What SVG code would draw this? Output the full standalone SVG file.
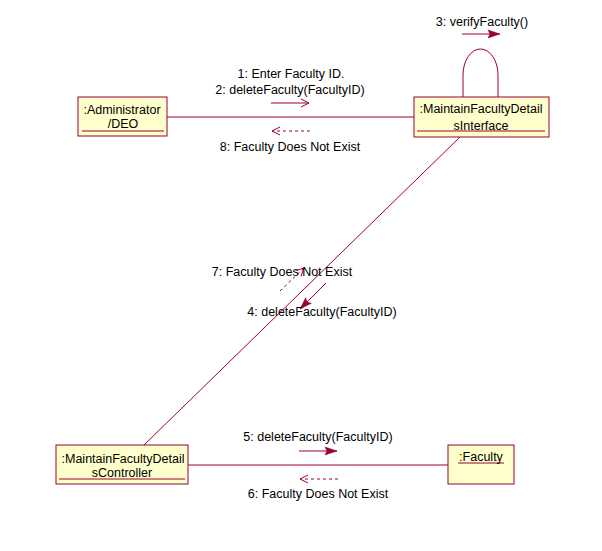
<svg xmlns="http://www.w3.org/2000/svg" width="602" height="551" viewBox="0 0 602 551">
<style>
.box{fill:#FFFFCC;stroke:#990033;stroke-width:1}
.ul{stroke:#990033;stroke-width:1}
.ln{stroke:#990033;stroke-width:1;fill:none}
.dash{stroke:#990033;stroke-width:1;fill:none;stroke-dasharray:3,3}
text{font-family:"Liberation Sans",Arial,sans-serif;font-size:12.5px;fill:#000;text-anchor:middle}
</style>
<defs>
<marker id="filled" markerUnits="userSpaceOnUse" markerWidth="14" markerHeight="10" refX="12" refY="4" orient="auto" overflow="visible">
<path d="M0,0 L12,4 L0,8 L2,4 z" fill="#990033" stroke="#990033" stroke-width="0.5"/>
</marker>
<marker id="open" markerUnits="userSpaceOnUse" markerWidth="10" markerHeight="10" refX="8" refY="4" orient="auto" overflow="visible">
<path d="M0,0 L8,4 L0,8" fill="none" stroke="#990033" stroke-width="1"/>
</marker>
</defs>
<rect width="602" height="551" fill="#fff"/>
<g id="connectors">
<line class="ln" x1="167" y1="117" x2="414" y2="117"/>
<line class="ln" x1="460" y1="137" x2="144" y2="445"/>
<line class="ln" x1="188" y1="465" x2="448" y2="465"/>
<path class="ln" d="M463,97 V75 A17.5,26 0 0 1 498,75 V97"/>
<line class="ln" x1="271" y1="103" x2="309" y2="103" marker-end="url(#open)"/>
<line class="dash" x1="310" y1="131" x2="272" y2="131" marker-end="url(#open)"/>
<line class="ln" x1="462" y1="34" x2="500" y2="34" marker-end="url(#filled)"/>
<line class="ln" x1="326" y1="283" x2="300" y2="309" marker-end="url(#filled)"/>
<line class="dash" x1="280" y1="291" x2="304" y2="268" marker-end="url(#open)"/>
<line class="ln" x1="299" y1="451" x2="337" y2="451" marker-end="url(#filled)"/>
<line class="dash" x1="338" y1="479" x2="300" y2="479" marker-end="url(#open)"/>
<text x="291" y="78">1: Enter Faculty ID.</text>
<text x="290" y="94">2: deleteFaculty(FacultyID)</text>
<text x="290" y="151">8: Faculty Does Not Exist</text>
<text x="482" y="26">3: verifyFaculty()</text>
<text x="282" y="276">7: Faculty Does Not Exist</text>
<text x="322" y="316">4: deleteFaculty(FacultyID)</text>
<text x="318" y="441">5: deleteFaculty(FacultyID)</text>
<text x="318" y="498">6: Faculty Does Not Exist</text>
</g>
<g id="administrator">
<rect class="box" x="78" y="97" width="89" height="39"/>
<line class="ul" x1="82" y1="131" x2="164" y2="131"/>
<text x="122" y="114">:Administrator</text>
<text x="123" y="128">/DEO</text>
</g>
<g id="interface">
<rect class="box" x="414" y="97" width="135" height="40"/>
<line class="ul" x1="417" y1="131" x2="545" y2="131"/>
<text x="481" y="113">:MaintainFacultyDetail</text>
<text x="481" y="130">sInterface</text>
</g>
<g id="controller">
<rect class="box" x="56" y="445" width="132" height="39"/>
<line class="ul" x1="59" y1="479" x2="185" y2="479"/>
<text x="123" y="463">:MaintainFacultyDetail</text>
<text x="122" y="477">sController</text>
</g>
<g id="faculty">
<rect class="box" x="448" y="445" width="66" height="39"/>
<line class="ul" x1="458" y1="463" x2="504" y2="463"/>
<text x="481" y="461">:Faculty</text>
</g>
</svg>
